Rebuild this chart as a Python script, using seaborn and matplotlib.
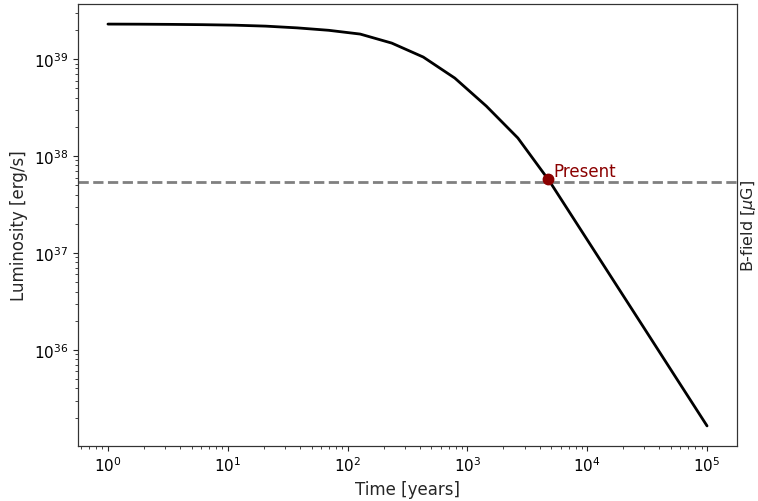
import matplotlib
matplotlib.use("Agg")
import matplotlib.pyplot as plt
import seaborn as sns
import pandas as pd

# Spin-down luminosity history
time_years = [1.0, 1.83, 3.36, 6.16, 11.3, 20.7, 37.9, 69.5, 127.4, 233.6,
              428.1, 784.8, 1438.4, 2636.7, 4832.9, 8858.7, 16237.8, 29763.5,
              54555.9, 100000.0]
log_luminosity = [39.361, 39.360, 39.358, 39.355, 39.350, 39.340, 39.322, 39.297,
                  39.258, 39.165, 39.021, 38.804, 38.515, 38.186, 37.742, 37.237,
                  36.732, 36.227, 35.721, 35.216]
luminosity = [10 ** v for v in log_luminosity]

present_time = 4730.0
present_luminosity = 5.8e37
observed_luminosity = 5.45e37

df = pd.DataFrame({"Time": time_years, "Luminosity": luminosity})

sns.set_style("ticks")
plt.rcParams["font.family"] = ["DejaVu Sans"]

fig = plt.figure(figsize=(7.58, 5.02), dpi=100)
ax = fig.add_axes([78 / 758, 55 / 502, 659 / 758, 442 / 502])

sns.lineplot(data=df, x="Time", y="Luminosity", ax=ax, color="black", linewidth=2)
ax.set_xscale("log")
ax.set_yscale("log")
ax.axhline(observed_luminosity, color="gray", linestyle="--", linewidth=2)
ax.plot([present_time], [present_luminosity], "o", color="darkred", markersize=7.5, zorder=5)
ax.annotate("Present", (present_time, present_luminosity), xytext=(4, 2),
            textcoords="offset points", color="darkred", fontsize=12)

ax.set_xlabel("Time [years]", fontsize=12)
ax.set_ylabel("Luminosity [erg/s]", fontsize=12)
ax.tick_params(labelsize=11, labelcolor="black")
for s in ax.spines.values():
    s.set_color("#333333")

ax2 = ax.twinx()
ax2.set_yticks([])
ax2.set_ylabel("B-field [$\\mu$G]", fontsize=11.5)
ax2.yaxis.set_label_coords(1 + 2 / 659, 0.5)
for s in ax2.spines.values():
    s.set_color("#333333")

fig.savefig("out.png", dpi=100)
